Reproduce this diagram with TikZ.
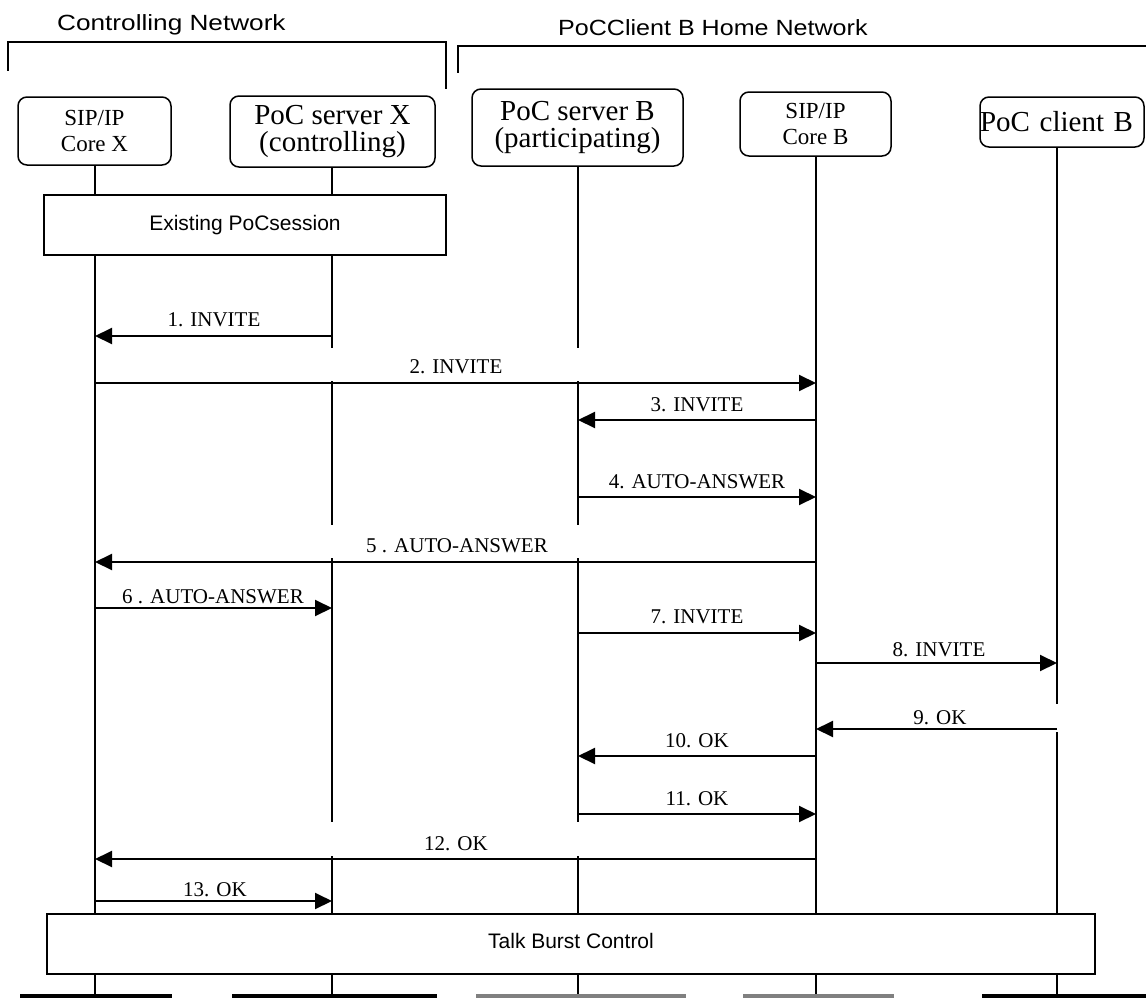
\documentclass[tikz,border=0pt]{standalone}
\usepackage{graphicx}
\usepackage{fontspec}
\setmainfont{Liberation Serif}
\setsansfont{Liberation Sans}
\usetikzlibrary{arrows.meta}
\begin{document}
\begin{tikzpicture}[x=1pt,y=-1pt,
  pbox/.style={draw, line width=1.5pt, rounded corners=9pt, align=center, inner sep=0pt},
  bigtxt/.style={font=\fontsize{29}{27}\selectfont},
  smalltxt/.style={font=\fontsize{23}{26}\selectfont},
  life/.style={line width=1.5pt},
  msg/.style={line width=2pt, -{Triangle[length=17pt,width=16pt]}},
  lbl/.style={font=\fontsize{21}{25}\selectfont, anchor=base, inner sep=0pt},
  hdr/.style={font=\sffamily\fontsize{22}{26}\selectfont, anchor=base west, inner sep=0pt},
  bar/.style={draw, line width=1.8pt, inner sep=0pt, font=\sffamily\fontsize{21}{25}\selectfont},
  foot/.style={line width=4pt}
]
\useasboundingbox (0,0) rectangle (1146,998);

% headers and brackets
\node[hdr] (hCN) at (57,31) {\scalebox{1.19}[1]{Controlling Network}};
\node[hdr] (hHN) at (558,36) {\scalebox{1.14}[1]{PoCClient B Home Network}};
\draw[line width=1.5pt] (8,71) -- (8,42) -- (446,42) -- (446,89);
\draw[line width=1.5pt] (458,73) -- (458,46) -- (1146,46);

% participants
\node[pbox, smalltxt, minimum width=153pt, minimum height=68pt] (coreX) at (94.5,131) {SIP/IP\\Core X};
\node[pbox, bigtxt, minimum width=205pt, minimum height=71pt] (pocX) at (332.5,131.5) {PoC server X\\(controlling)};
\node[pbox, bigtxt, minimum width=211pt, minimum height=77pt] (pocB) at (577.5,127.5) {PoC server B\\(participating)};
\node[pbox, smalltxt, minimum width=151pt, minimum height=64pt] (coreB) at (815.5,124) {SIP/IP\\Core B};
\node[pbox, bigtxt, text width=164pt, inner xsep=0pt, align=left, minimum height=50pt] (clientB) at (1062,122) {PoC client B};

% lifeline x positions
\coordinate (LA) at (95,0);
\coordinate (LB) at (332,0);
\coordinate (LC) at (578,0);
\coordinate (LD) at (816,0);
\coordinate (LE) at (1057,0);

% bars
\node[bar, minimum width=402pt, minimum height=60pt] (exist) at (245,225) {Existing PoCsession};
\node[bar, minimum width=1048pt, minimum height=60pt] (talk) at (571,944) {\raisebox{6pt}{Talk Burst Control}};

% lifelines
\draw[life] (LA |- coreX.south) -- (LA |- exist.north);
\draw[life] (LA |- exist.south) -- (LA |- talk.north);
\draw[life] (LA |- talk.south) -- (LA |- 0,998);

\draw[life] (LB |- pocX.south) -- (LB |- exist.north);
\draw[life] (LB |- exist.south) -- (LB |- 0,348);
\draw[life] (LB |- 0,381) -- (LB |- 0,525);
\draw[life] (LB |- 0,558) -- (LB |- 0,822);
\draw[life] (LB |- 0,856) -- (LB |- talk.north);
\draw[life] (LB |- talk.south) -- (LB |- 0,998);

\draw[life] (LC |- pocB.south) -- (LC |- 0,348);
\draw[life] (LC |- 0,381) -- (LC |- 0,525);
\draw[life] (LC |- 0,558) -- (LC |- 0,822);
\draw[life] (LC |- 0,856) -- (LC |- talk.north);
\draw[life] (LC |- talk.south) -- (LC |- 0,998);

\draw[life] (LD |- coreB.south) -- (LD |- talk.north);
\draw[life] (LD |- talk.south) -- (LD |- 0,998);

\draw[life] (LE |- clientB.south) -- (LE |- 0,704);
\draw[life] (LE |- 0,732) -- (LE |- talk.north);
\draw[life] (LE |- talk.south) -- (LE |- 0,998);

% messages
\draw[msg] (LB |- 0,336) -- (LA |- 0,336);
\node[lbl] (m1) at (214,326) {1. INVITE};
\draw[msg] (LA |- 0,383) -- (LD |- 0,383);
\node[lbl] (m2) at (456,373) {2. INVITE};
\draw[msg] (LD |- 0,420) -- (LC |- 0,420);
\node[lbl] (m3) at (697,411) {3. INVITE};
\draw[msg] (LC |- 0,497) -- (LD |- 0,497);
\node[lbl] (m4) at (697,488) {4. AUTO-ANSWER};
\draw[msg] (LD |- 0,562) -- (LA |- 0,562);
\node[lbl] (m5) at (457,552) {5 . AUTO-ANSWER};
\draw[msg] (LA |- 0,608) -- (LB |- 0,608);
\node[lbl] (m6) at (213,603) {6 . AUTO-ANSWER};
\draw[msg] (LC |- 0,633) -- (LD |- 0,633);
\node[lbl] (m7) at (697,623) {7. INVITE};
\draw[msg] (LD |- 0,663) -- (LE |- 0,663);
\node[lbl] (m8) at (939,656) {8. INVITE};
\draw[msg] (LE |- 0,729) -- (LD |- 0,729);
\node[lbl] (m9) at (940,724) {9. OK};
\draw[msg] (LD |- 0,756) -- (LC |- 0,756);
\node[lbl] (m10) at (697,747) {10. OK};
\draw[msg] (LC |- 0,814) -- (LD |- 0,814);
\node[lbl] (m11) at (697,805) {11. OK};
\draw[msg] (LD |- 0,859) -- (LA |- 0,859);
\node[lbl] (m12) at (456,850) {12. OK};
\draw[msg] (LA |- 0,901) -- (LB |- 0,901);
\node[lbl] (m13) at (215,896) {13. OK};

% cut-off boxes at the bottom edge
\draw[foot] (20,996) -- (172,996);
\draw[foot] (232,996) -- (437,996);
\draw[foot, gray] (476,996) -- (686,996);
\draw[foot, gray] (743,996) -- (894,996);
\draw[foot] (982,996) -- (1146,996);
\end{tikzpicture}
\end{document}
